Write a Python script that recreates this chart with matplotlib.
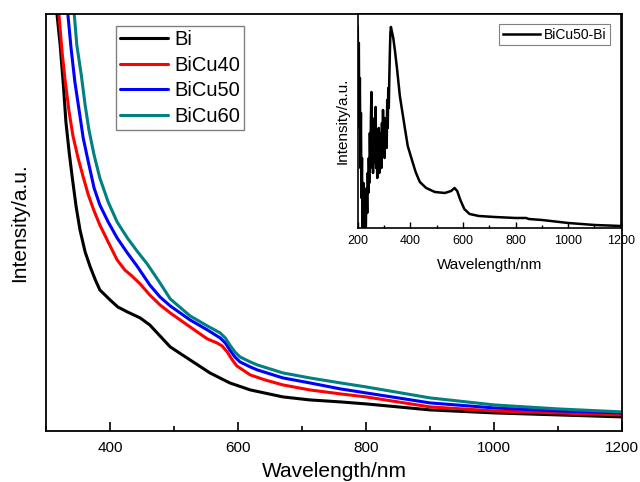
import matplotlib.pyplot as plt
from matplotlib.ticker import MultipleLocator

plt.rcParams['font.family'] = ['Liberation Sans', 'DejaVu Sans']

# main spectra (wavelength / nm, intensity in a.u.)
bi_wl = [314, 317, 322, 327, 331, 336, 341, 347, 353, 361, 369, 377, 384, 400, 412,
         427, 447, 462, 494, 525, 556, 587, 619, 670, 712, 760, 800, 900, 1000, 1100, 1200]
bi_int = [460, 417, 386, 346, 309, 279, 253, 224, 201, 179, 164, 151, 141, 131, 124,
          119, 113, 106, 84, 71, 58, 48, 41, 34, 31, 29, 27, 21, 18, 16, 14]

cu40_wl = [317, 320, 325, 330, 336, 342, 350, 358, 366, 375, 384, 397, 411, 423, 434,
           447, 462, 478, 494, 525, 552, 567, 575, 583, 591, 598, 619, 642, 670, 712,
           760, 800, 900, 1000, 1100, 1200]
cu40_int = [460, 417, 379, 349, 319, 295, 273, 254, 236, 220, 206, 189, 171, 161, 155,
            147, 136, 126, 118, 104, 92, 88, 85, 79, 71, 65, 56, 51, 46, 41,
            37, 34, 24, 20, 18, 16]

cu50_wl = [331, 334, 339, 345, 352, 358, 366, 375, 384, 397, 411, 427, 442, 462, 478,
           494, 525, 552, 572, 580, 587, 595, 603, 619, 630, 670, 712, 760, 800, 900,
           1000, 1100, 1200]
cu50_int = [455, 417, 383, 349, 319, 293, 269, 243, 226, 209, 193, 178, 165, 146, 134,
            125, 111, 101, 93, 88, 81, 74, 69, 64, 61, 53, 48, 42, 38, 28,
            23, 20, 18]

cu60_wl = [340, 344, 348, 355, 361, 367, 375, 384, 397, 411, 427, 442, 458, 478, 494,
           525, 552, 572, 580, 587, 595, 603, 619, 630, 670, 712, 760, 800, 900, 1000,
           1100, 1200]
cu60_int = [455, 417, 386, 356, 326, 301, 276, 253, 229, 209, 193, 180, 167, 148, 132,
            115, 105, 98, 93, 86, 79, 74, 69, 66, 58, 53, 48, 44, 33, 26,
            22, 19]

# inset: difference spectrum BiCu50 - Bi
diff_wl = [200, 202, 204, 206, 208, 210, 212, 214, 216, 218, 220, 222, 224, 226, 228,
           230, 232, 234, 236, 238, 240, 242, 244, 246, 248, 250, 252, 254, 256, 258,
           260, 262, 264, 266, 268, 270, 272, 274, 276, 278, 280, 282, 284, 286, 288,
           290, 292, 294, 296, 298, 300, 302, 304, 306, 308, 310, 312, 314, 316, 318,
           320, 322, 324, 326, 335, 341, 349, 360, 379, 390, 406, 420, 436, 460, 493,
           531, 555, 568, 578, 590, 605, 625, 660, 720, 800, 840, 850, 900, 1000, 1100,
           1200]
diff_int = [201, 120, 185, 100, 150, 60, 115, 30, 70, -10, 20, 45, -20, 10, 35,
            -15, 25, 40, 15, 55, 35, 70, 45, 95, 60, 110, 136, 75, 100, 55,
            90, 65, 110, 70, 121, 60, 95, 50, 85, 65, 100, 55, 80, 70, 95,
            60, 105, 75, 118, 80, 100, 70, 110, 85, 95, 80, 128, 100, 140, 120,
            151, 175, 195, 201, 190, 178, 160, 132, 100, 82, 68, 56, 46, 40, 36,
            35, 37, 40, 37, 28, 19, 14, 12, 11, 10, 10, 9, 8, 5, 3,
            2]

fig = plt.figure(figsize=(6.4, 4.82), dpi=100)
ax = fig.add_axes([0.072, 0.106, 0.9, 0.865])

kw = dict(lw=2.2, solid_joinstyle='round', solid_capstyle='round')
ax.plot(bi_wl, bi_int, color='black', label='Bi', **kw)
ax.plot(cu40_wl, cu40_int, color='#ff0000', label='BiCu40', **kw)
ax.plot(cu50_wl, cu50_int, color='#0000ff', label='BiCu50', **kw)
ax.plot(cu60_wl, cu60_int, color='#008080', label='BiCu60', **kw)

ax.set_xlim(300, 1200)
ax.set_ylim(0, 417)
ax.set_xticks([400, 600, 800, 1000, 1200])
ax.xaxis.set_minor_locator(MultipleLocator(100))
ax.tick_params(axis='x', which='major', direction='in', length=6.5, width=1.2,
               labelsize=11, pad=7)
ax.tick_params(axis='x', which='minor', direction='in', length=3.3, width=1.2)
ax.set_yticks([])
for sp in ax.spines.values():
    sp.set_linewidth(1.3)
ax.set_xlabel('Wavelength/nm', fontsize=15, labelpad=5)
ax.set_ylabel('Intensity/a.u.', fontsize=15, labelpad=12)

leg = ax.legend(loc='upper left', bbox_to_anchor=(0.1215, 0.971), fontsize=14.5,
                handlelength=2.4, labelspacing=0.33, borderpad=0.2,
                borderaxespad=0, handletextpad=0.3, fancybox=False, framealpha=1)
leg.get_frame().set_edgecolor('#808080')
leg.get_frame().set_linewidth(1.0)

# inset
ins = fig.add_axes([0.559, 0.527, 0.411, 0.444])
ins.plot(diff_wl, diff_int, color='black', lw=1.8, solid_joinstyle='round',
         label='BiCu50-Bi')
ins.set_xlim(200, 1200)
ins.set_ylim(0, 214)
ins.set_xticks([200, 400, 600, 800, 1000, 1200])
ins.xaxis.set_minor_locator(MultipleLocator(100))
ins.tick_params(axis='x', which='major', direction='in', length=4, width=1,
                labelsize=9, pad=5)
ins.tick_params(axis='x', which='minor', direction='in', length=2.5, width=1)
ins.set_yticks([])
for sp in ins.spines.values():
    sp.set_linewidth(1.2)
ins.set_xlabel('Wavelength/nm', fontsize=11, labelpad=8)
ins.set_ylabel('Intensity/a.u.', fontsize=11, labelpad=6)
ileg = ins.legend(loc='upper right', fontsize=10, handlelength=2.7,
                  borderpad=0.25, borderaxespad=0.75, handletextpad=0.3,
                  fancybox=False, framealpha=1)
ileg.get_frame().set_edgecolor('#808080')
ileg.get_frame().set_linewidth(0.8)

fig.savefig('out.png', dpi=100)
